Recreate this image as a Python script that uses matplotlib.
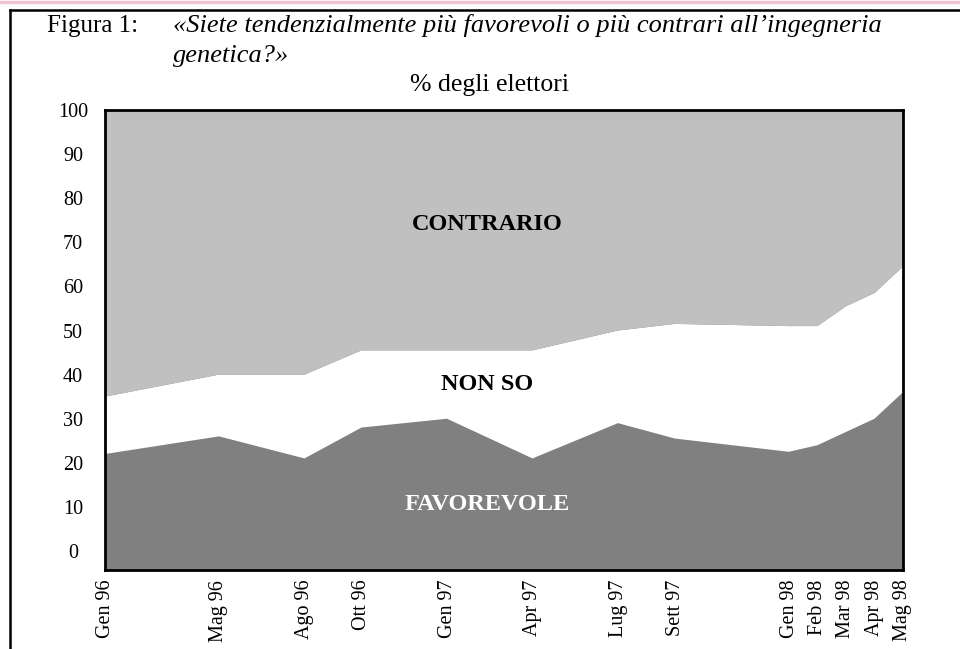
import matplotlib
matplotlib.use("Agg")
import matplotlib.pyplot as plt
from matplotlib.lines import Line2D

plt.rcParams['font.family'] = ['Liberation Serif', 'DejaVu Serif']

# survey dates (month index from Gen 96) and labels
month_idx = [0, 4, 7, 9, 12, 15, 18, 20, 24, 25, 26, 27, 28]
month_labels = ["Gen 96", "Mag 96", "Ago 96", "Ott 96", "Gen 97", "Apr 97", "Lug 97",
                "Sett 97", "Gen 98", "Feb 98", "Mar 98", "Apr 98", "Mag 98"]

# % of voters
favorevole = [22, 26, 21, 28, 30, 21, 29, 25.5, 22.5, 24, 27, 30, 36]
non_so = [13, 14, 19, 17.5, 15.5, 24.5, 21, 26, 28.5, 27, 28.5, 28.5, 28.5]
contrario = [65, 60, 60, 54.5, 54.5, 54.5, 50, 48.5, 49, 49, 44.5, 41.5, 35.5]

W, H = 960, 649
fig = plt.figure(figsize=(W / 100, H / 100), dpi=100)


def fx(x):
    return x / W


def fy(y):
    return 1 - y / H


ax = fig.add_axes([fx(105), fy(570), fx(903) - fx(105), fy(110) - fy(570)])
ax.set_facecolor('#808080')
ax.stackplot(month_idx, favorevole, non_so, contrario,
             colors=['#808080', '#ffffff', '#c0c0c0'], linewidth=0)
ax.set_xlim(0, 28)
ax.set_ylim(-4.3, 100)

ax.set_yticks(range(0, 101, 10))
ax.set_xticks(month_idx)
ax.set_xticklabels(month_labels, rotation=90, fontsize=14.5, va='top')
ax.tick_params(axis='x', length=0, pad=7)
ax.tick_params(axis='y', length=0, pad=23, labelsize=14.5)
for lab in ax.get_yticklabels():
    lab.set_horizontalalignment('center')
for s in ax.spines.values():
    s.set_linewidth(2)
    s.set_color('black')

# labels inside the areas
ax.text(13.4, 74, "CONTRARIO", ha='center', va='center', fontsize=17.5, fontweight='bold', color='black')
ax.text(13.4, 37.8, "NON SO", ha='center', va='center', fontsize=17.5, fontweight='bold', color='black')
ax.text(13.4, 10.5, "FAVOREVOLE", ha='center', va='center', fontsize=17.5, fontweight='bold', color='white')

# titles
fig.text(fx(47), fy(32), "Figura 1:", fontsize=18, ha='left', va='baseline')
fig.text(fx(173), fy(32), "«Siete tendenzialmente più favorevoli o più contrari all’ingegneria",
         fontsize=19, style='italic', ha='left', va='baseline')
fig.text(fx(173), fy(62), "genetica?»", fontsize=19, style='italic', ha='left', va='baseline')
fig.text(fx(490), fy(91), "% degli elettori", fontsize=18.5, ha='center', va='baseline')

# page frame
fig.add_artist(Line2D([0, 1], [fy(1.5), fy(1.5)], transform=fig.transFigure, color='#f0c4d4', lw=2.5))
fig.add_artist(Line2D([fx(10), 1], [fy(10), fy(10)], transform=fig.transFigure, color='black', lw=1.8))
fig.add_artist(Line2D([fx(10), fx(10)], [fy(10), 0], transform=fig.transFigure, color='black', lw=1.8))

plt.savefig("out.png", dpi=100)
